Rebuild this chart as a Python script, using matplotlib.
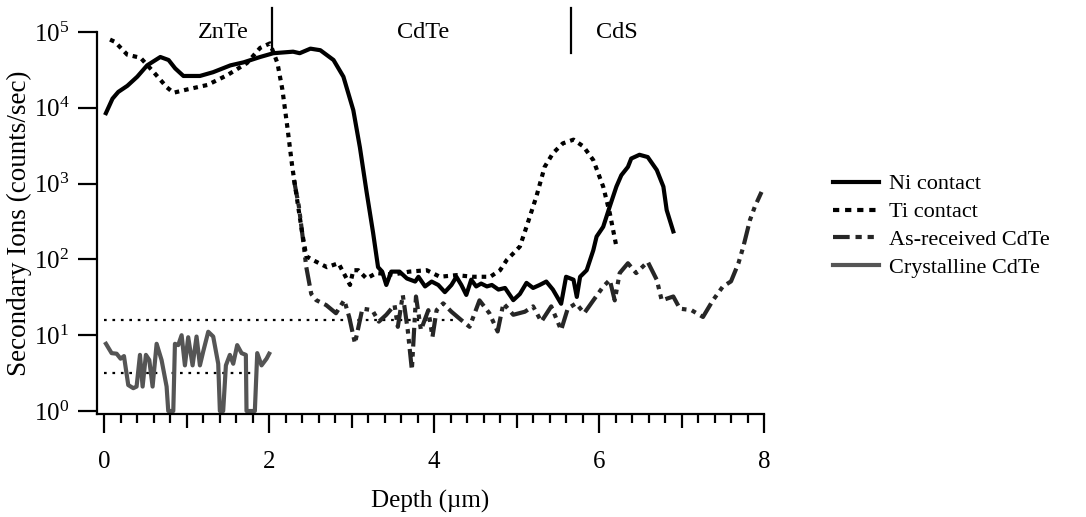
import numpy as np
import matplotlib
matplotlib.use('Agg')
import matplotlib.pyplot as plt
from matplotlib.ticker import FixedLocator, NullLocator, NullFormatter, FuncFormatter
from matplotlib.lines import Line2D

plt.rcParams['font.family'] = ['Liberation Serif', 'DejaVu Serif']
plt.rcParams['mathtext.fontset'] = 'custom'
plt.rcParams['mathtext.rm'] = 'Liberation Serif'
plt.rcParams['mathtext.it'] = 'Liberation Serif:italic'

# ---------------- data ----------------
ni_depth = [0.02, 0.10, 0.17, 0.28, 0.40, 0.52, 0.68, 0.78, 0.86, 0.96, 1.16, 1.32, 1.53, 1.69, 1.89,
            2.05, 2.29, 2.37, 2.50, 2.62, 2.78, 2.90, 3.02, 3.10, 3.18, 3.26, 3.32, 3.37, 3.42, 3.48,
            3.58, 3.67, 3.77, 3.81, 3.89, 3.97, 4.05, 4.13, 4.21, 4.27, 4.33, 4.39, 4.45, 4.51, 4.57,
            4.64, 4.70, 4.78, 4.86, 4.96, 5.04, 5.12, 5.20, 5.28, 5.36, 5.44, 5.54, 5.60, 5.69, 5.73,
            5.77, 5.85, 5.93, 5.97, 6.05, 6.13, 6.21, 6.27, 6.35, 6.39, 6.49, 6.59, 6.70, 6.78, 6.82, 6.90]
ni_counts = [8500, 13200, 16200, 19500, 25700, 36300, 46800, 42700, 33100, 26300, 26300, 29500, 36300, 39800, 46800,
             52500, 55000, 52500, 60300, 57500, 42700, 25700, 9300, 3000, 790, 224, 79, 69, 46, 69,
             69, 56, 51, 59, 44, 51, 46, 37, 46, 59, 46, 34, 54, 44, 48,
             44, 46, 40, 42, 29, 35, 49, 42, 46, 51, 40, 26, 59, 54, 32,
             59, 72, 132, 200, 269, 500, 912, 1290, 1660, 2140, 2400, 2240, 1510, 912, 447, 234]

ti_depth = [0.07, 0.13, 0.28, 0.44, 0.60, 0.76, 0.84, 1.00, 1.25, 1.49, 1.73, 1.89, 2.01, 2.10, 2.16,
            2.22, 2.28, 2.34, 2.40, 2.45, 2.53, 2.70, 2.84, 2.98, 3.02, 3.08, 3.18, 3.30, 3.50, 3.70,
            3.91, 4.07, 4.27, 4.47, 4.68, 4.80, 4.88, 4.96, 5.04, 5.12, 5.24, 5.34, 5.44, 5.56, 5.69,
            5.81, 5.93, 6.05, 6.13, 6.21]
ti_counts = [79400, 74100, 50100, 45700, 29500, 18600, 15800, 17400, 20000, 26900, 38900, 61700, 70800, 38900, 17400,
             5600, 1660, 600, 224, 110, 98, 79, 89, 46, 72, 72, 56, 66, 63, 69,
             72, 59, 62, 59, 59, 72, 98, 120, 148, 269, 676, 1660, 2510, 3390, 3800,
             3090, 2040, 912, 407, 148]

asr_depth = [2.30, 2.36, 2.41, 2.45, 2.51, 2.57, 2.69, 2.81, 2.91, 2.97, 3.04, 3.13, 3.25, 3.33, 3.42,
             3.52, 3.56, 3.62, 3.68, 3.73, 3.78, 3.84, 3.93, 3.98, 4.03, 4.11, 4.21, 4.33, 4.43, 4.55,
             4.67, 4.77, 4.84, 4.96, 5.10, 5.20, 5.30, 5.42, 5.54, 5.62, 5.72, 5.82, 5.93, 6.05, 6.13,
             6.19, 6.25, 6.35, 6.45, 6.59, 6.70, 6.76, 6.90, 6.98, 7.12, 7.26, 7.38, 7.50, 7.60, 7.69,
             7.75, 7.83, 7.89, 7.97]
asr_counts = [1120, 500, 182, 79, 35, 29, 25, 19.5, 29, 17.4, 7.8, 22.4, 21.4, 15.1, 18.6,
              25, 12.9, 33.9, 11.7, 3.5, 32.4, 11.7, 21.4, 9.5, 21.4, 26.3, 20.4, 15.8, 12.9, 28.8,
              19.5, 11.2, 26.3, 18.6, 20.4, 24, 15.1, 24, 11.7, 22.4, 26.3, 19.5, 28.8, 43.7, 53.7,
              28.8, 66, 89, 66, 93, 53.7, 28.8, 32.4, 22.4, 21.4, 17.4, 28.8, 43.7, 51.3, 89,
              148, 331, 500, 776]

cry_depth = [0.021, 0.089, 0.150, 0.198, 0.239, 0.291, 0.352, 0.392, 0.433, 0.465, 0.505, 0.546, 0.586,
             0.635, 0.695, 0.756, 0.776, 0.837, 0.857, 0.897, 0.938, 0.978, 1.018, 1.071, 1.119, 1.160,
             1.200, 1.261, 1.321, 1.382, 1.402, 1.442, 1.475, 1.523, 1.564, 1.612, 1.665, 1.717, 1.725,
             1.826, 1.855, 1.907, 1.968, 2.000]
cry_counts = [7.7, 5.8, 5.7, 4.9, 5.3, 2.2, 2.0, 2.1, 5.5, 2.1, 5.5, 4.7, 2.1,
              7.7, 4.7, 2.1, 1.0, 1.0, 7.7, 7.4, 10.0, 4.0, 9.4, 4.0, 9.6, 4.0,
              6.1, 11.1, 9.6, 4.2, 1.0, 1.0, 4.0, 5.5, 4.2, 7.4, 5.8, 5.5, 1.0,
              1.0, 5.8, 4.0, 4.9, 5.7]

series_labels = ['Ni contact', 'Ti contact', 'As-received CdTe', 'Crystalline CdTe']

# detection-limit reference lines: (level, start depth, end depth)
ref_levels = [15.9, 3.15]
ref_starts = [0.0, 0.0]
ref_ends = [4.23, 1.83]

layer_names = ['ZnTe', 'CdTe', 'CdS']
layer_label_depth = [1.44, 3.87, 6.21]
layer_boundaries = [2.04, 5.66]

xticks_major = [0, 2, 4, 6, 8]
xticks_mid = [1, 3, 5, 7]
yticks = [1, 10, 100, 1000, 10000, 100000]

# ---------------- figure ----------------
fig = plt.figure(figsize=(10.86, 5.17), dpi=100)
ax = fig.add_axes([97 / 1086, 103 / 517, 667 / 1086, 382 / 517])
ax.set_yscale('log')
ax.set_xlim(-0.088, 8)
ax.set_ylim(10 ** (-3 / 75.8), 1e5)

# reference lines
for lvl, s, e in zip(ref_levels, ref_starts, ref_ends):
    ax.plot([s, e], [lvl, lvl], color='black', lw=1.6, dashes=(1.2, 2.6), zorder=1)

LW = 3.0
l_asr, = ax.plot(asr_depth, asr_counts, color='#262626', lw=LW, dashes=(4.5, 1.3, 1.1, 1.3, 1.1, 1.3), zorder=2)
l_cry, = ax.plot(cry_depth, cry_counts, color='#555555', lw=LW, zorder=2)
l_ti, = ax.plot(ti_depth, ti_counts, color='black', lw=LW, dashes=(1.1, 1.2), zorder=3)
l_ni, = ax.plot(ni_depth, ni_counts, color='black', lw=LW, zorder=4)

# layer labels and boundaries
for name, xd in zip(layer_names, layer_label_depth):
    ax.text(xd, 1.0, name, transform=ax.get_xaxis_transform(), ha='center', va='center',
            fontsize=17.5, clip_on=False)
for xb in layer_boundaries:
    ax.plot([xb, xb], [0.945, 1.063], transform=ax.get_xaxis_transform(), color='black',
            lw=1.6, clip_on=False)

# spines
for s in ['top', 'right']:
    ax.spines[s].set_visible(False)
for s in ['left', 'bottom']:
    ax.spines[s].set_linewidth(1.6)

# y ticks
ax.yaxis.set_major_locator(FixedLocator(yticks))
ax.yaxis.set_minor_locator(NullLocator())
ax.yaxis.set_major_formatter(FuncFormatter(lambda v, p: r'$10^{%d}$' % int(round(np.log10(v)))))
ax.tick_params(axis='y', which='major', length=14, width=1.6, pad=6, labelsize=18)

# x ticks
ax.xaxis.set_major_locator(FixedLocator(xticks_major))
ax.xaxis.set_minor_locator(FixedLocator([v for v in np.arange(0, 8.01, 0.2)
                                         if abs(v - round(v)) > 1e-6]))
ax.tick_params(axis='x', which='major', length=14, width=1.6, pad=13, labelsize=18)
ax.tick_params(axis='x', which='minor', length=6.5, width=1.6)

sec = ax.secondary_xaxis('bottom')
sec.set_xticks(xticks_mid)
sec.xaxis.set_major_formatter(NullFormatter())
sec.tick_params(axis='x', length=10, width=1.6)
sec.spines['bottom'].set_visible(False)

ax.set_xlabel('Depth (\u00b5m)', fontsize=18, labelpad=12)
ax.set_ylabel('Secondary Ions (counts/sec)', fontsize=19.5, labelpad=1)

# legend
handles = [Line2D([], [], color='black', lw=3.0),
           Line2D([], [], color='black', lw=3.0, dashes=(1.5, 1.4)),
           Line2D([], [], color='#262626', lw=3.0, dashes=(4.0, 1.4, 1.5, 1.4, 1.5, 1.4)),
           Line2D([], [], color='#555555', lw=3.0)]
fig.legend(handles, series_labels, loc='center left', bbox_to_anchor=(833 / 1086, 1 - 226 / 517),
           frameon=False, fontsize=16, handlelength=2.05, handletextpad=0.47, labelspacing=0.33,
           borderpad=0, borderaxespad=0)

fig.savefig('out.png', dpi=100)
